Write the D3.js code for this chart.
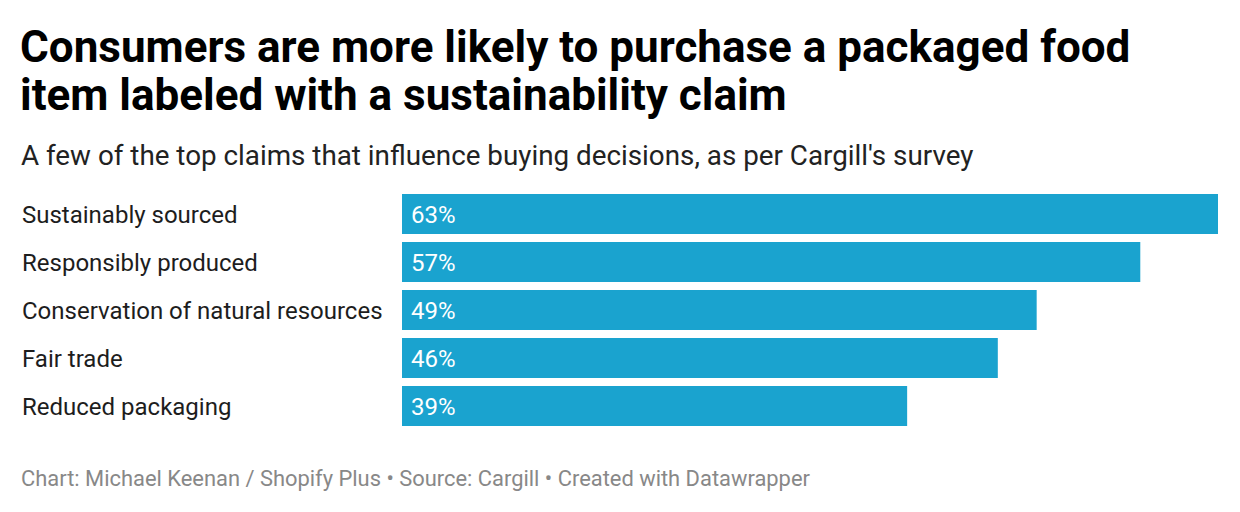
<!doctype html>
<html>
  <head>
    <script src="https://cdnjs.cloudflare.com/ajax/libs/d3/7.8.5/d3.min.js"></script>
    <style>
      body { margin: 0; background: #fff; font-family: Roboto, sans-serif; }
      text.title { font-weight: 700; font-size: 44px; fill: #000; }
      text.subtitle { font-size: 27.8px; fill: #222; }
      text.label { font-size: 24px; fill: #1d1d1d; }
      text.value { font-size: 24px; fill: #fff; }
      text.footer { font-size: 21.9px; fill: #888; }
      rect.bar { fill: #1aa3cf; }
    </style>
  </head>
  <body>
    <svg width="1240" height="512"></svg>
    <script>
      var categories = ["Sustainably sourced", "Responsibly produced", "Conservation of natural resources", "Fair trade", "Reduced packaging"];
      var values = [63, 57, 49, 46, 39];
      var titleLines = ["Consumers are more likely to purchase a packaged food", "item labeled with a sustainability claim"];
      var subtitle = "A few of the top claims that influence buying decisions, as per Cargill's survey";
      var footer = "Chart: Michael Keenan / Shopify Plus \u2022 Source: Cargill \u2022 Created with Datawrapper";

      var svg = d3.select("svg");

      svg.selectAll("text.title").data(titleLines)
        .enter().append("text")
          .attr("class", "title")
          .attr("x", 20)
          .attr("y", (d, i) => 62 + i * 48)
          .text(d => d);

      svg.append("text")
        .attr("class", "subtitle")
        .attr("x", 21)
        .attr("y", 165)
        .text(subtitle);

      var x = d3.scaleLinear().domain([0, 63]).range([402, 1218]);
      // band step 48, bar 40
      var y = d3.scaleBand().domain(categories)
        .range([194, 194 + 48 * categories.length - 8])
        .paddingInner(8 / 48);

      var rows = svg.selectAll("g.row").data(categories)
        .enter().append("g")
          .attr("class", "row");

      rows.append("text")
        .attr("class", "label")
        .attr("x", 22)
        .attr("y", d => y(d) + y.bandwidth() / 2 + 8.5)
        .text(d => d);

      rows.append("rect")
        .attr("class", "bar")
        .attr("x", x(0))
        .attr("y", d => y(d))
        .attr("height", y.bandwidth())
        .attr("width", (d, i) => x(values[i]) - x(0));

      rows.append("text")
        .attr("class", "value")
        .attr("x", x(0) + 9)
        .attr("y", d => y(d) + y.bandwidth() / 2 + 8.5)
        .text((d, i) => values[i] + "%");

      svg.append("text")
        .attr("class", "footer")
        .attr("x", 21)
        .attr("y", 486)
        .text(footer);
    </script>
  </body>
</html>
